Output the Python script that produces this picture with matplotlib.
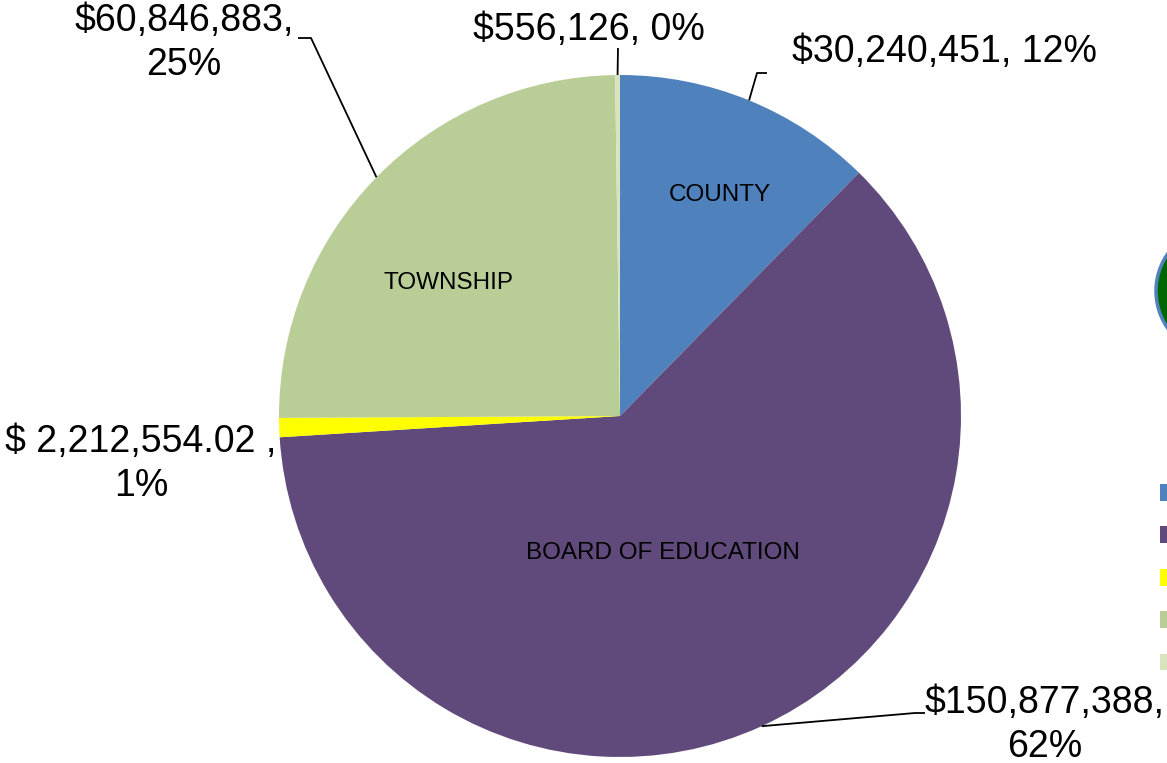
import numpy as np
import matplotlib.pyplot as plt
from matplotlib.patches import Circle

# data
categories = ['COUNTY', 'BOARD OF EDUCATION', 'FIRE DISTRICT', 'TOWNSHIP', 'LIBRARY']
values = [30240451, 150877388, 2212554.02, 60846883, 556126]
value_labels = ['$30,240,451, 12%', '$150,877,388,\n62%', '$ 2,212,554.02 ,\n1%',
                '$60,846,883,\n25%', '$556,126, 0%']
inner_labels = ['COUNTY', 'BOARD OF EDUCATION', '', 'TOWNSHIP', '']
colors = ['#4F81BD', '#604A7B', '#FFFF00', '#B9CD96', '#D7E4BD']

W, H = 1167, 763
fig = plt.figure(figsize=(W / 100, H / 100), dpi=100)
ax = fig.add_axes([0, 0, 1, 1])

cx, cy, r = 620, H - 416, 341
wedges, _ = ax.pie(values, colors=colors, startangle=90, counterclock=False,
                   center=(cx, cy), radius=r, frame=True,
                   wedgeprops=dict(linewidth=0))
ax.set_xlim(0, W)
ax.set_ylim(0, H)
ax.set_aspect('equal')
ax.axis('off')

# inner labels
inner_pos = [(720, 195), (663, 553), None, (448, 283), None]
for lab, pos in zip(inner_labels, inner_pos):
    if lab:
        ax.text(pos[0], H - pos[1], lab, ha='center', va='center', fontsize=17.5,
                family='Liberation Sans')

# outer labels with leader lines (bend points in pixels from top-left)
lab_pos = [(945, 52), (1045, 725), (141, 464), (184, 43), (589, 30)]
leaders = [
    [(757, 73), (767, 73)],
    [(915, 713), (925, 713)],
    None,
    [(311, 38), (298, 38)],
    [(618, 48)],
]
for i, (w, txt) in enumerate(zip(wedges, value_labels)):
    ax.text(lab_pos[i][0], H - lab_pos[i][1], txt, ha='center', va='center',
            fontsize=27, family='Liberation Sans', linespacing=1.27)
    if leaders[i] is None:
        continue
    a = np.deg2rad((w.theta1 + w.theta2) / 2)
    sx, sy = cx + r * np.cos(a), cy + r * np.sin(a)
    pts = [(sx, sy)] + [(p[0], H - p[1]) for p in leaders[i]]
    xs, ys = zip(*pts)
    ax.plot(xs, ys, color='black', lw=1.3, solid_capstyle='butt')

# decorative green circle (cut off at the right edge)
ax.add_patch(Circle((1225, H - 295), 66, facecolor='#BBBBBB', edgecolor='none',
                    alpha=0.5, zorder=1))
ax.add_patch(Circle((1221, H - 291), 65, facecolor='#006600', edgecolor='#4F81BD',
                    lw=2.5, zorder=2))

# legend (mostly outside the canvas)
ax.legend(wedges, categories, loc='upper left', bbox_to_anchor=(1160 / W, 1 - 484 / H),
          frameon=False, fontsize=14, handlelength=0.9, handleheight=0.95,
          handletextpad=0.5, labelspacing=1.2, borderpad=0, borderaxespad=0)

fig.savefig('out.png', dpi=100)
